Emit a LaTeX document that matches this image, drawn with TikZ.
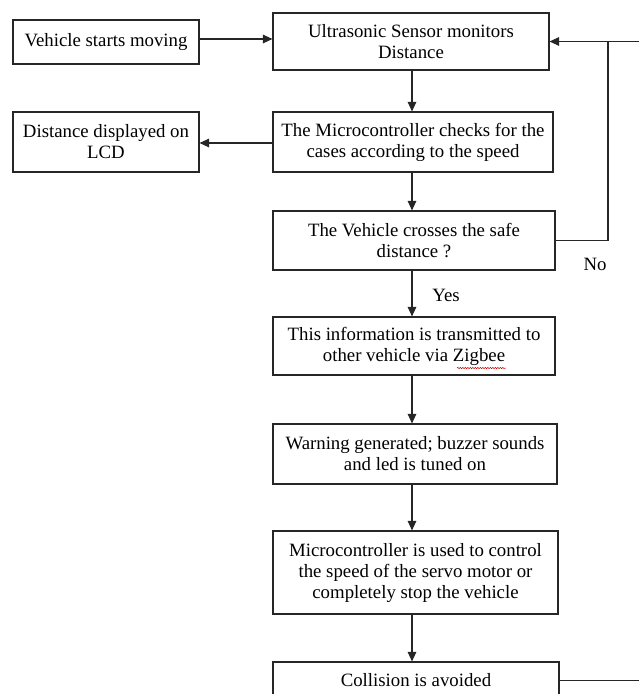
\documentclass[tikz,border=0pt]{standalone}
\usepackage{fontspec}
\setmainfont{Liberation Serif}
\usetikzlibrary{arrows.meta,decorations.pathmorphing}
\begin{document}
\begin{tikzpicture}[x=1pt,y=-1pt,
  box/.style={draw=black!85,line width=1.1pt,inner sep=0pt,align=center,
    font=\fontsize{18.8}{21}\selectfont},
  arr/.style={draw=black!85,line width=1.1pt,-{Triangle[length=9.5pt,width=8.5pt]}},
  ln/.style={draw=black!85,line width=1.1pt},
  lbl/.style={inner sep=0pt,font=\fontsize{18.8}{21}\selectfont}]
\useasboundingbox (0,0) rectangle (639,694);
\coordinate (cx) at (412,0);
\coordinate (fb) at (608,0);
\coordinate (re) at (639,0);

\node[box,minimum width=186pt,minimum height=44pt] (veh) at (106,42) {Vehicle starts moving};
\node[box,minimum width=276pt,minimum height=57pt] (ult) at (411,41.5) {Ultrasonic Sensor monitors\\Distance};
\node[box,minimum width=186pt,minimum height=60pt] (lcd) at (106,142) {Distance displayed on\\LCD};
\node[box,minimum width=280pt,minimum height=60pt] (mc1) at (413,142) {The Microcontroller checks for the\\cases according to the speed};
\node[box,minimum width=282pt,minimum height=59pt] (dec) at (414,240.5) {The Vehicle crosses the safe\\distance ?};
\node[box,minimum width=282pt,minimum height=58pt] (zig) at (414,346) {This information is transmitted to\\other vehicle via Zigbee};
\node[box,minimum width=284pt,minimum height=60pt] (warn) at (415,454) {Warning generated; buzzer sounds\\and led is tuned on};
\node[box,minimum width=285pt,minimum height=83pt] (mc2) at (415.5,572.5) {Microcontroller is used to control\\the speed of the servo motor or\\completely stop the vehicle};
\node[box,minimum width=286pt,minimum height=37pt] (col) at (416,680.5) {Collision is avoided};

\node[lbl] (no) at (595,264) {No};
\node[lbl] (yes) at (446,295) {Yes};

% connectors
\draw[arr] (veh.east |- 0,39) -- (ult.west |- 0,39);
\draw[arr] (mc1.west |- 0,143) -- (lcd.east |- 0,143);
\draw[arr] (ult.south -| cx) -- (mc1.north -| cx);
\draw[arr] (mc1.south -| cx) -- (dec.north -| cx);
\draw[arr] (dec.south -| cx) -- (zig.north -| cx);
\draw[arr] (zig.south -| cx) -- (warn.north -| cx);
\draw[arr] (warn.south -| cx) -- (mc2.north -| cx);
\draw[arr] (mc2.south -| cx) -- (col.north -| cx);

\coordinate (fbd) at (dec.east -| fb);
\coordinate (fbt) at (ult.east -| fb);
\coordinate (fbr) at (ult.east -| re);
\draw[ln] (dec.east) -- (fbd) -- (fbt);
\draw[arr] (fbr) -- (ult.east);
\coordinate (cr) at (col.east -| re);
\draw[ln] (col.east) -- (cr);

% spell-check squiggle under "Zigbee"
\coordinate (sq1) at (457,368);
\coordinate (sq2) at (506,368);
\draw[red!85!black,line width=0.5pt,decorate,decoration={snake,segment length=2.5pt,amplitude=0.7pt}] (sq1) -- (sq2);
\end{tikzpicture}
\end{document}
